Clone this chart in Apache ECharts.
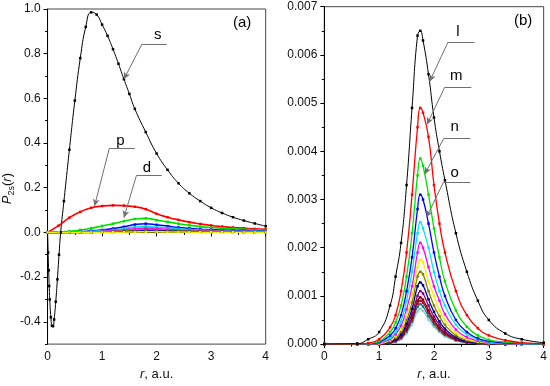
<!DOCTYPE html>
<html><head><meta charset="utf-8">
<script src="https://cdn.jsdelivr.net/npm/echarts@6/dist/echarts.min.js"></script>
<style>html,body{margin:0;padding:0;background:#fff}#c{width:550px;height:386px}</style>
</head><body><div id="c"></div>
<script>
// ---------- panel (a) ----------
const sR = [0,0.01,0.02,0.03,0.04,0.06,0.08,0.1,0.12,0.15,0.18,0.21,0.24,0.3,0.4,0.5,0.6,0.7,0.8,0.9,1.0,1.1,1.2,1.3,1.4,1.5,1.6,1.8,2.0,2.2,2.4,2.6,2.8,3.0,3.2,3.4,3.6,3.8,4.0];
const sP = [0,-0.09,-0.17,-0.24,-0.3,-0.38,-0.418,-0.42,-0.39,-0.31,-0.21,-0.1,0,0.14,0.37,0.59,0.78,0.92,0.985,0.975,0.93,0.88,0.82,0.755,0.686,0.62,0.553,0.449,0.353,0.28,0.22,0.175,0.14,0.11,0.087,0.068,0.053,0.04,0.028];
const rA = [0,0.2,0.4,0.6,0.8,1.0,1.2,1.4,1.6,1.8,2.0,2.2,2.4,2.6,2.8,3.0,3.2,3.4,3.6,3.8,4.0];
const pA = [0,0.03,0.066,0.092,0.11,0.118,0.121,0.12,0.115,0.104,0.083,0.068,0.056,0.046,0.038,0.031,0.026,0.022,0.019,0.016,0.014];
const dA = [0,0.001,0.005,0.011,0.019,0.029,0.039,0.05,0.06,0.063,0.055,0.047,0.039,0.032,0.026,0.022,0.019,0.016,0.014,0.012,0.011];
const fA = [0,0,0.001,0.003,0.007,0.011,0.017,0.025,0.035,0.039,0.034,0.028,0.022,0.018,0.014,0.012,0.010,0.009,0.008,0.007,0.006];
const gA = [0,0,0.001,0.002,0.004,0.007,0.011,0.017,0.024,0.027,0.024,0.02,0.016,0.013,0.01,0.008,0.007,0.006,0.005,0.005,0.004];
const hA = [0,0,0,0.001,0.002,0.004,0.007,0.011,0.016,0.019,0.017,0.014,0.011,0.009,0.007,0.006,0.005,0.004,0.004,0.003,0.003];
const iA = [0,0,0,0,0.001,0.002,0.004,0.006,0.01,0.012,0.011,0.009,0.007,0.006,0.005,0.004,0.003,0.003,0.002,0.002,0.002];
const jA = [0,0,0,0,0,0.001,0.002,0.003,0.005,0.007,0.006,0.005,0.004,0.003,0.003,0.002,0.002,0.002,0.001,0.001,0.001];
const kA = [0,0,0,0,0,0,0.001,0.001,0.002,0.003,0.003,0.002,0.002,0.001,0.001,0.001,0.001,0.001,0,0,0];
const aSeries = [
  {name:'p', vals:pA, color:'#ff0000'},
  {name:'d', vals:dA, color:'#00e000'},
  {name:'f', vals:fA, color:'#0000ff'},
  {name:'g', vals:gA, color:'#00e0e0'},
  {name:'h', vals:hA, color:'#ff00ff'},
  {name:'i', vals:iA, color:'#808000'},
  {name:'j', vals:jA, color:'#000080'},
  {name:'k', vals:kA, color:'#f0f000'}
];
const aTicksY = [-0.4,-0.2,0.0,0.2,0.4,0.6,0.8,1.0];

// ---------- panel (b) ----------
const rB = [0,0.6,0.8,1.0,1.2,1.3,1.4,1.5,1.6,1.7,1.75,1.8,1.9,2.0,2.1,2.2,2.4,2.6,2.8,3.0,3.3,3.6,4.0];
const lB = [0,0.00001,0.0001,0.00025,0.0008,0.0014,0.0021,0.0033,0.0049,0.0064,0.0065,0.0063,0.0056,0.0047,0.0040,0.0034,0.0023,0.0015,0.0009,0.0005,0.00022,0.0001,0.00003];
const mB = [0,0,0.00002,0.0001,0.00035,0.0006,0.0011,0.0019,0.0031,0.0045,0.0049,0.0048,0.0043,0.0033,0.0025,0.0019,0.0011,0.0006,0.00033,0.00018,0.00008,0.00003,0.00001];
const nB = [0,0,0.00001,0.00006,0.00025,0.00045,0.0008,0.0014,0.0023,0.0035,0.00385,0.0037,0.0031,0.0024,0.0018,0.0013,0.0007,0.00036,0.00018,0.00009,0.00004,0.00002,0];
const oB = [0,0,0,0.00004,0.00018,0.00033,0.0006,0.0011,0.0018,0.0028,0.0031,0.0030,0.0025,0.0019,0.0014,0.001,0.0005,0.00025,0.00012,0.00006,0.00002,0.00001,0];
const qB = [0,0,0,0.00003,0.00013,0.00025,0.00047,0.0009,0.0015,0.0023,0.00253,0.0024,0.002,0.0015,0.0011,0.0008,0.0004,0.0002,0.0001,0.00004,0.00002,0,0];
const tB = [0,0,0,0.00002,0.0001,0.0002,0.00038,0.00072,0.0012,0.0019,0.0021,0.002,0.0016,0.0012,0.0009,0.00062,0.0003,0.00014,0.00007,0.00003,0.00001,0,0];
const uB = [0,0,0,0.00001,0.00008,0.00016,0.0003,0.0006,0.001,0.0016,0.00175,0.0017,0.0013,0.001,0.0007,0.0005,0.00023,0.0001,0.00005,0.00002,0.00001,0,0];
const vB = [0,0,0,0.00001,0.00006,0.00013,0.00025,0.0005,0.00086,0.0014,0.0015,0.00145,0.0011,0.0008,0.00058,0.0004,0.00018,0.00008,0.00004,0.00002,0,0,0];
const wB = [0,0,0,0.00001,0.00005,0.0001,0.0002,0.00042,0.00073,0.0012,0.00128,0.00122,0.00093,0.00067,0.00047,0.00032,0.00014,0.00006,0.00003,0.00001,0,0,0];
const xB = [0,0,0,0,0.00004,0.00008,0.00017,0.00036,0.00063,0.001,0.0011,0.00105,0.0008,0.00057,0.0004,0.00027,0.00012,0.00005,0.00002,0.00001,0,0,0];
const yB = [0,0,0,0,0.00003,0.00007,0.00015,0.00031,0.00055,0.0009,0.00097,0.00092,0.0007,0.0005,0.00034,0.00023,0.0001,0.00004,0.00002,0,0,0,0];
const zB = [0,0,0,0,0.00003,0.00006,0.00014,0.00029,0.00051,0.00084,0.0009,0.00086,0.00065,0.00046,0.00031,0.00021,0.00009,0.00004,0.00002,0,0,0,0];
const z2B = [0,0,0,0,0.00003,0.00006,0.00012,0.00026,0.00047,0.00077,0.00083,0.00078,0.00058,0.00041,0.00028,0.00019,0.00008,0.00003,0.00001,0,0,0,0];
const z3B = [0,0,0,0,0.00002,0.00005,0.0001,0.00022,0.00041,0.00068,0.00073,0.00069,0.00051,0.00036,0.00025,0.00016,0.00007,0.00003,0.00001,0,0,0,0];
const bSeries = [
  {name:'l', vals:lB, color:'#000000'},
  {name:'m', vals:mB, color:'#ff0000'},
  {name:'n', vals:nB, color:'#00e000'},
  {name:'o', vals:oB, color:'#0000ff'},
  {name:'q', vals:qB, color:'#00e8e8'},
  {name:'t', vals:tB, color:'#ff00ff'},
  {name:'u', vals:uB, color:'#f0f000'},
  {name:'v', vals:vB, color:'#808000'},
  {name:'w', vals:wB, color:'#000080'},
  {name:'x', vals:xB, color:'#800080'},
  {name:'y', vals:yB, color:'#800000'},
  {name:'z', vals:zB, color:'#c00030'},
  {name:'z2', vals:z2B, color:'#008080'},
  {name:'z3', vals:z3B, color:'#90c8c8'}
];
const bTicksY = [0,0.001,0.002,0.003,0.004,0.005,0.006,0.007];
const xTicks = [0,1,2,3,4];

// annotations (data coordinates)
const annA = [
  {text:'s', tip:[1.40,0.686], elbow:[1.733,0.844], end:[2.184,0.844], at:[2.02,0.885]},
  {text:'p', tip:[0.861,0.118], elbow:[1.132,0.376], end:[1.601,0.376], at:[1.336,0.41]},
  {text:'d', tip:[1.40,0.066], elbow:[1.63,0.255], end:[2.094,0.255], at:[1.823,0.29]}
];
const annB = [
  {text:'l', tip:[1.922,0.00545], elbow:[2.255,0.006265], end:[2.74,0.006265], at:[2.436,0.00648]},
  {text:'m', tip:[1.873,0.004557], elbow:[2.195,0.005327], end:[2.68,0.005327], at:[2.407,0.00556]},
  {text:'n', tip:[1.831,0.003525], elbow:[2.176,0.004262], end:[2.662,0.004262], at:[2.376,0.00451]},
  {text:'o', tip:[1.862,0.002631], elbow:[2.176,0.003366], end:[2.662,0.003366], at:[2.376,0.00356]}
];

const font = 'Liberation Sans, Arial, sans-serif';
function pairs(xs, ys){ return xs.map((x,i)=>[x, ys[i]]); }
function lineSeries(name, data, color, gi, lw){
  return {name, type:'line', xAxisIndex:gi, yAxisIndex:gi*2, data, smooth:0.5,
    symbol:'rect', symbolSize:2.5, showSymbol:true, animation:false,
    lineStyle:{color, width:lw}, itemStyle:{color}, z:3};
}
function annSeries(ann, gi){
  const lines = [];
  ann.forEach(a=>{
    lines.push([{coord:a.elbow, symbol:'none'},{coord:a.tip, symbol:'arrow', symbolSize:[5,7]}]);
    lines.push([{coord:a.elbow, symbol:'none'},{coord:a.end, symbol:'none'}]);
  });
  return {type:'line', xAxisIndex:gi, yAxisIndex:gi*2, data:[], animation:false, z:10,
    markLine:{silent:true, animation:false, symbol:['none','arrow'], precision:6,
      label:{show:false}, lineStyle:{color:'#707070', width:1, type:'solid'},
      emphasis:{disabled:true}, data:lines},
    markPoint:{silent:true, animation:false, symbol:'circle', symbolSize:1,
      itemStyle:{color:'rgba(0,0,0,0)'},
      label:{show:true, position:'inside', color:'#000', fontSize:15, fontFamily:font, formatter:p=>p.name},
      data:ann.map(a=>({name:a.text, coord:a.at}))}
  };
}
function xAxisDef(gi){
  return {type:'value', gridIndex:gi, min:0, max:4, interval:1,
    name:'{i|r}, a.u.', nameLocation:'middle', nameGap:19,
    nameTextStyle:{fontSize:13, color:'#111', fontFamily:font, rich:{i:{fontStyle:'italic', fontSize:13, fontFamily:font, color:'#111'}}},
    axisLine:{lineStyle:{color:'#000', width:1}},
    axisTick:{show:true, inside:false, length:4, lineStyle:{color:'#000'}},
    minorTick:{show:true, splitNumber:2, length:2.5, lineStyle:{color:'#000'}},
    splitLine:{show:false},
    axisLabel:{fontSize:12, color:'#111', fontFamily:font, margin:7}};
}
function minorY(gi, min, max, interval){
  return {type:'value', gridIndex:gi, min, max, interval, position:'left',
    axisLine:{show:false}, axisLabel:{show:false}, splitLine:{show:false},
    axisTick:{show:true, length:2.5, lineStyle:{color:'#000'}}};
}

const series = [];
series.push(lineSeries('s', pairs(sR, sP), '#000000', 0, 1));
aSeries.forEach(s=>series.push(lineSeries(s.name, pairs(rA, s.vals), s.color, 0, 1.6)));
bSeries.slice().reverse().forEach(s=>series.push(lineSeries(s.name, pairs(rB, s.vals), s.color, 1, s.name==='l'?1:1.3)));
series.push(annSeries(annA, 0));
series.push(annSeries(annB, 1));

const chart = echarts.init(document.getElementById('c'), null, {renderer:'canvas'});
chart.setOption({
  animation:false,
  backgroundColor:'#fff',
  grid:[
    {left:44, top:9, width:221.7, height:339, show:true, borderColor:'#444', borderWidth:1, backgroundColor:'transparent'},
    {left:324.3, top:6.7, width:220, height:339, show:true, borderColor:'#444', borderWidth:1, backgroundColor:'transparent'}
  ],
  xAxis:[xAxisDef(0), xAxisDef(1)],
  yAxis:[
    {type:'value', gridIndex:0, min:-0.5, max:1.0, interval:0.1,
      name:'{i|P}{sub|2s}({i|r})', nameLocation:'middle', nameGap:30, nameRotate:90,
      nameTextStyle:{fontSize:13, color:'#111', fontFamily:font, padding:[0,24,0,0],
        rich:{i:{fontStyle:'italic', fontSize:13, fontFamily:font, color:'#111'},
              sub:{fontSize:9, fontFamily:font, color:'#111', padding:[8,0,0,0]}}},
      axisLine:{lineStyle:{color:'#000'}},
      axisTick:{length:4, lineStyle:{color:'#000'}, customValues:aTicksY},
      splitLine:{show:false},
      axisLabel:{fontSize:12, color:'#111', fontFamily:font, margin:7, customValues:aTicksY,
        formatter:v=>Number(v).toFixed(1)}},
    minorY(0, -0.5, 1.0, 0.1),
    {type:'value', gridIndex:1, min:0, max:0.007, interval:0.001,
      axisLine:{lineStyle:{color:'#000'}},
      axisTick:{length:4, lineStyle:{color:'#000'}},
      minorTick:{show:true, splitNumber:2, length:2.5, lineStyle:{color:'#000'}},
      splitLine:{show:false},
      axisLabel:{fontSize:12, color:'#111', fontFamily:font, margin:7,
        formatter:v=>Number(v).toFixed(3)}}
  ],
  graphic:[
    {type:'text', left:233, top:15, style:{text:'(a)', fontSize:15, fontFamily:font, fill:'#000'}},
    {type:'text', left:514, top:13, style:{text:'(b)', fontSize:15, fontFamily:font, fill:'#000'}}
  ],
  series
});
</script></body></html>
